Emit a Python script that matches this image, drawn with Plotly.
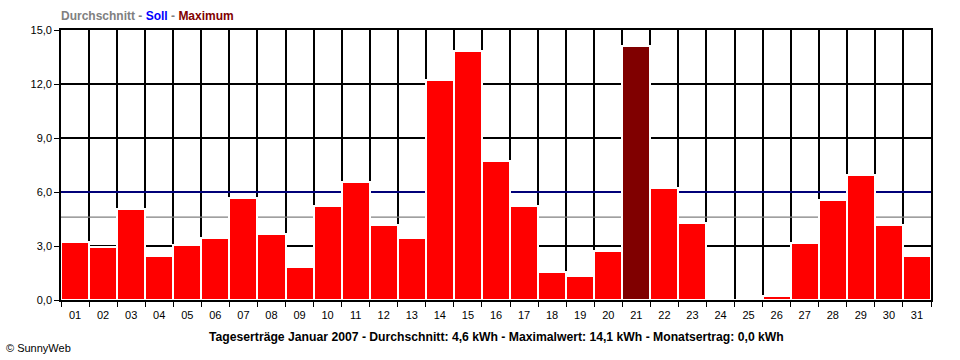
import plotly.graph_objects as go

days = [f"{d:02d}" for d in range(1, 32)]
values = [3.2, 2.95, 5.05, 2.45, 3.05, 3.45, 5.65, 3.65, 1.85, 5.2,
          6.55, 4.15, 3.45, 12.2, 13.85, 7.7, 5.2, 1.55, 1.35, 2.7,
          14.1, 6.2, 4.3, 0.0, 0.0, 0.25, 3.15, 5.55, 6.95, 4.15, 2.45]
average = 4.6
target = 6.0
month_total = 0.0
y_ticks = [0, 3, 6, 9, 12, 15]

def de(v):
    return f"{v:.1f}".replace(".", ",")

max_val = max(values)
bar_colors = ["#800000" if v == max_val else "#FF0000" for v in values]
xpos = list(range(1, len(days) + 1))
boundaries = [i + 0.5 for i in range(0, len(days) + 1)]
x_lo, x_hi = boundaries[0], boundaries[-1]

FONT = "Liberation Sans, Arial, sans-serif"

fig = go.Figure()
# reference lines (base subplot, drawn beneath bars)
fig.add_trace(go.Scatter(x=[x_lo, x_hi], y=[average, average], mode="lines",
                         line=dict(color="#808080", width=1.2), hoverinfo="skip",
                         showlegend=False, xaxis="x", yaxis="y"))
fig.add_trace(go.Scatter(x=[x_lo, x_hi], y=[target, target], mode="lines",
                         line=dict(color="#0000A0", width=1.3), hoverinfo="skip",
                         showlegend=False, xaxis="x", yaxis="y"))
# bars on overlaying subplot
fig.add_trace(go.Bar(x=xpos, y=values, marker=dict(color=bar_colors,
                     line=dict(color="white", width=2)),
                     showlegend=False, xaxis="x2", yaxis="y"))

fig.update_layout(
    width=960, height=360,
    margin=dict(l=61, r=29, t=30, b=60),
    paper_bgcolor="white", plot_bgcolor="white",
    bargap=0,
    font=dict(family=FONT, size=11, color="black"),
    xaxis=dict(range=[x_lo, x_hi], tickmode="array", tickvals=boundaries,
               showticklabels=False, ticks="outside", ticklen=5, tickcolor="black",
               showgrid=True, gridcolor="black", gridwidth=1.6,
               showline=True, mirror=True, linecolor="black", linewidth=1.6,
               zeroline=False, fixedrange=True),
    xaxis2=dict(range=[x_lo, x_hi], overlaying="x", side="bottom",
                tickmode="array", tickvals=xpos, ticktext=days,
                ticks="outside", ticklen=5, tickcolor="rgba(0,0,0,0)",
                showgrid=False, showline=False, zeroline=False,
                tickfont=dict(family=FONT, size=11, color="black")),
    yaxis=dict(range=[0, 15], tickmode="array", tickvals=y_ticks,
               ticktext=[de(v) for v in y_ticks],
               ticks="outside", ticklen=5, tickcolor="black",
               showgrid=True, gridcolor="black", gridwidth=1.6,
               showline=True, mirror=True, linecolor="black", linewidth=1.6,
               zeroline=False,
               tickfont=dict(family=FONT, size=11, color="black")),
)

fig.add_annotation(
    xref="paper", yref="paper", x=0, y=1, yshift=14, xanchor="left", yanchor="middle",
    showarrow=False, xshift=-2,
    text=("<b><span style='color:#808080'>Durchschnitt</span>"
          "<span style='color:#808080'> - </span>"
          "<span style='color:#0000FF'>Soll</span>"
          "<span style='color:#808080'> - </span>"
          "<span style='color:#800000'>Maximum</span></b>"),
    font=dict(family=FONT, size=12))

fig.add_annotation(
    xref="paper", yref="paper", x=0.5, y=0, yshift=-37, xanchor="center", yanchor="middle",
    showarrow=False,
    text=(f"<b>Tageserträge Januar 2007 - Durchschnitt: {de(average)} kWh - "
          f"Maximalwert: {de(max_val)} kWh - Monatsertrag: {de(month_total)} kWh</b>"),
    font=dict(family=FONT, size=12.2, color="black"))

fig.add_annotation(
    xref="paper", yref="paper", x=0, y=0, xshift=-57, yshift=-48, xanchor="left", yanchor="middle",
    showarrow=False, text="© SunnyWeb",
    font=dict(family=FONT, size=11, color="black"))

fig.write_html("out.html", config={"displayModeBar": False},
               post_script="document.body.style.margin='0';")
